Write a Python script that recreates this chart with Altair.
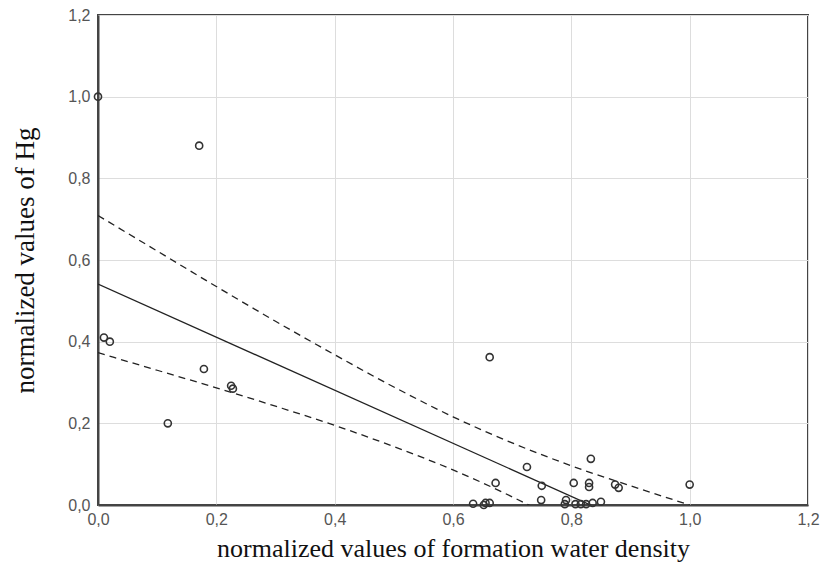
import altair as alt
import pandas as pd

# scatter points
pt_x = [0.0, 0.171, 0.01, 0.02, 0.179, 0.225, 0.228, 0.118, 0.662, 0.725, 0.672,
        0.75, 0.749, 0.804, 0.83, 0.83, 0.833, 0.874, 0.88, 1.0, 0.634, 0.655,
        0.662, 0.652, 0.791, 0.789, 0.807, 0.816, 0.825, 0.836, 0.85]
pt_y = [1.0, 0.88, 0.41, 0.40, 0.333, 0.292, 0.285, 0.20, 0.362, 0.093, 0.054,
        0.047, 0.012, 0.054, 0.054, 0.044, 0.113, 0.05, 0.042, 0.05, 0.003, 0.005,
        0.005, 0.0, 0.012, 0.002, 0.002, 0.002, 0.002, 0.005, 0.008]

# fitted line
fit_x = [0.0, 1.0]
fit_y = [0.541, -0.109]

# confidence bands
band_x = [0.0, 0.1, 0.2, 0.3, 0.4, 0.5, 0.6, 0.7, 0.8, 0.9, 1.0]
band_up = [0.709, 0.622, 0.535, 0.450, 0.368, 0.289, 0.216, 0.152, 0.096, 0.047, 0.0]
band_lo = [0.373, 0.330, 0.287, 0.242, 0.195, 0.143, 0.086, 0.020, -0.054, -0.135, -0.218]

ticks = [0.0, 0.2, 0.4, 0.6, 0.8, 1.0, 1.2]

pts = pd.DataFrame({"x": pt_x, "y": pt_y})
fit = pd.DataFrame({"x": fit_x, "y": fit_y})
bands = pd.concat([
    pd.DataFrame({"x": band_x, "y": band_up, "s": "up"}),
    pd.DataFrame({"x": band_x, "y": band_lo, "s": "lo"}),
])

lbl = "replace(format(datum.value, '.1f'), '.', ',')"

xscale = alt.Scale(domain=[0, 1.2], nice=False, zero=False)
yscale = alt.Scale(domain=[0, 1.2], nice=False, zero=False)

xaxis = alt.Axis(values=ticks, labelExpr=lbl, title="normalized values of formation water density",
                 ticks=False, labelPadding=6, titlePadding=8, labelFlush=False)
yaxis = alt.Axis(values=ticks, labelExpr=lbl, title="normalized values of Hg",
                 ticks=False, labelPadding=8, titlePadding=28, labelFlush=False)

base_x = alt.X("x:Q", scale=xscale, axis=xaxis)
base_y = alt.Y("y:Q", scale=yscale, axis=yaxis)

points = alt.Chart(pts).mark_point(shape="circle", filled=False, size=50,
                                   stroke="#333333", strokeWidth=1.6, opacity=1).encode(
    x=base_x, y=base_y)

line = alt.Chart(fit).mark_line(color="#222222", strokeWidth=1.3, clip=True).encode(
    x=alt.X("x:Q", scale=xscale), y=alt.Y("y:Q", scale=yscale))

dash = alt.Chart(bands).mark_line(color="#222222", strokeWidth=1.3, strokeDash=[7, 5],
                                  clip=True, interpolate="monotone").encode(
    x=alt.X("x:Q", scale=xscale), y=alt.Y("y:Q", scale=yscale), detail="s:N")

chart = alt.layer(dash, line, points).properties(
    width=710, height=490,
    autosize=alt.AutoSizeParams(type="none"),
    padding={"left": 90, "top": 7, "right": 13, "bottom": 60},
).configure_view(
    stroke="#444444", strokeWidth=2
).configure_axis(
    grid=True, gridColor="#dddddd", gridWidth=1,
    domainColor="#444444", domainWidth=2,
    labelFont="Liberation Sans", labelFontSize=16, labelColor="#555555",
    titleFont="Liberation Serif", titleFontSize=26, titleFontWeight="normal",
    titleColor="#111111",
).configure_axisY(labelAlign="right", titleFontSize=27)

chart.save("out.html", embed_options={"renderer": "svg", "actions": False})
